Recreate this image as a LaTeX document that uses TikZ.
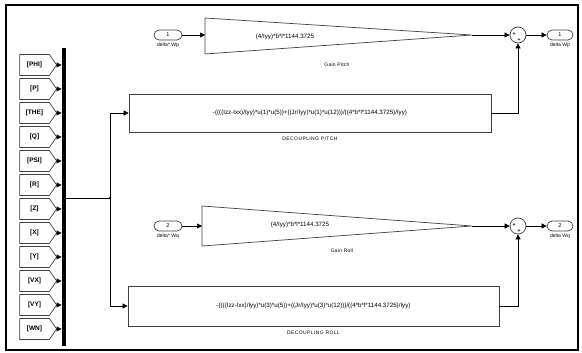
\documentclass[tikz,border=0pt]{standalone}
\usepackage{fontspec}
\setmainfont{Liberation Sans}
\usetikzlibrary{arrows.meta,positioning,shapes.symbols,shapes.misc,calc}

\begin{document}
\begin{tikzpicture}[x=1pt,y=-1pt,
  blk/.style={draw=black!75,line width=0.7pt,fill=white},
  tagbox/.style={blk,signal,signal to=east,signal pointer angle=110,
    minimum width=37pt,minimum height=21pt,inner sep=0pt,
    font=\fontsize{6.5}{7}\selectfont\bfseries},
  port/.style={blk,rounded rectangle,minimum width=28pt,minimum height=10pt,
    inner sep=0pt,font=\fontsize{5.5}{6}\selectfont},
  sumnode/.style={blk,circle,minimum size=16pt,inner sep=0pt},
  sgn/.style={font=\fontsize{5}{5}\selectfont\bfseries,inner sep=0pt},
  wire/.style={line width=0.6pt,-{Triangle[length=5pt,width=5pt]}},
  lbl/.style={font=\fontsize{5}{6}\selectfont,inner sep=0pt},
  fml/.style={font=\fontsize{6.2}{7}\selectfont,inner sep=0pt}]
  % image is 582 x 353 px, 1pt = 1px, y grows downwards
  \useasboundingbox (0,0) rectangle (582,353);

  % outer frame
  \draw[line width=2pt] (6,5) rectangle (578,350);

  % mux bar
  \node[fill=black,minimum width=4.5pt,minimum height=298pt,inner sep=0pt] (mux) at (64,197) {};

  % goto tags -> mux
  \foreach \nm [count=\i from 0] in {PHI,P,THE,Q,PSI,R,Z,X,Y,VX,VY,WN} {
    \node[tagbox] (t\i) at (34.5,{65+24*\i}) {[\nm]};
    \draw[wire] (t\i.east) -- (t\i.east -| mux.west);
  }

  % --- decoupling blocks
  \node[blk,fml,minimum width=362pt,minimum height=38pt] (pitch) at (310,113)
    {-((((Izz-Ixx)/Iyy)*u(1)*u(5))+((Jr/Iyy)*u(1)*u(12)))/((4*b*l*1144.3725)/Iyy)};
  \node[lbl,below=4pt of pitch] (pitchlbl) {\addfontfeature{LetterSpace=8}DECOUPLING PITCH};
  \node[blk,fml,minimum width=371pt,minimum height=40pt] (roll) at (313.5,306)
    {-((((Izz-Ixx)/Iyy)*u(3)*u(5))+((Jr/Iyy)*u(3)*u(12)))/((4*b*l*1144.3725)/Iyy)};
  \node[lbl,below=4pt of roll] (rolllbl) {\addfontfeature{LetterSpace=8}DECOUPLING ROLL};

  % mux output split
  \coordinate (jn) at (110,198);
  \draw[line width=0.6pt] (mux.east |- jn) -- (jn);
  \fill (jn) circle (1.3);
  \draw[wire] (jn) |- (pitch.west);
  \draw[wire] (jn) |- (roll.west);

  % --- gains
  \draw[blk] (205,18) -- (472,35) -- (205,54) -- cycle;
  \coordinate (gpin) at (205,35);
  \coordinate (gpout) at (472,35);
  \node[fml] (gptxt) at (285,37) {(4/Iyy)*b*l*1144.3725};
  \node[lbl] (gplbl) at (337,65) {\addfontfeature{LetterSpace=5}Gain Pitch};

  \draw[blk] (202,206) -- (472,226) -- (202,246) -- cycle;
  \coordinate (grin) at (202,226);
  \coordinate (grout) at (472,226);
  \node[fml] (grtxt) at (300,225) {(4/Iyy)*b*l*1144.3725};
  \node[lbl] (grlbl) at (342,251) {\addfontfeature{LetterSpace=5}Gain Roll};

  % --- in ports
  \node[port] (ip1) at (168,35) {1};
  \node[lbl,below=2pt of ip1] {delta* Wp};
  \node[port] (ip2) at (168,226) {2};
  \node[lbl,below=2pt of ip2] {delta* Wq};
  \draw[wire] (ip1.east) -- (gpin);
  \draw[wire] (ip2.east) -- (grin);

  % --- sums
  \node[sumnode] (s1) at (518,35) {};
  \node[sgn] at (514,34) {+};
  \node[sgn] at (519,40) {+};
  \node[sumnode] (s2) at (518,226) {};
  \node[sgn] at (514,225) {+};
  \node[sgn] at (519,231) {+};

  \draw[wire] (gpout) -- (s1.west);
  \draw[wire] (pitch.east) -| (s1.south);
  \draw[wire] (grout) -- (s2.west);
  \draw[wire] (roll.east) -| (s2.south);

  % --- out ports
  \node[port,minimum width=26pt] (op1) at (560,35) {1};
  \node[lbl,below=2pt of op1] {delta Wp};
  \node[port,minimum width=26pt] (op2) at (560,226) {2};
  \node[lbl,below=2pt of op2] {delta Wq};
  \draw[wire] (s1.east) -- (op1.west);
  \draw[wire] (s2.east) -- (op2.west);
\end{tikzpicture}
\end{document}
